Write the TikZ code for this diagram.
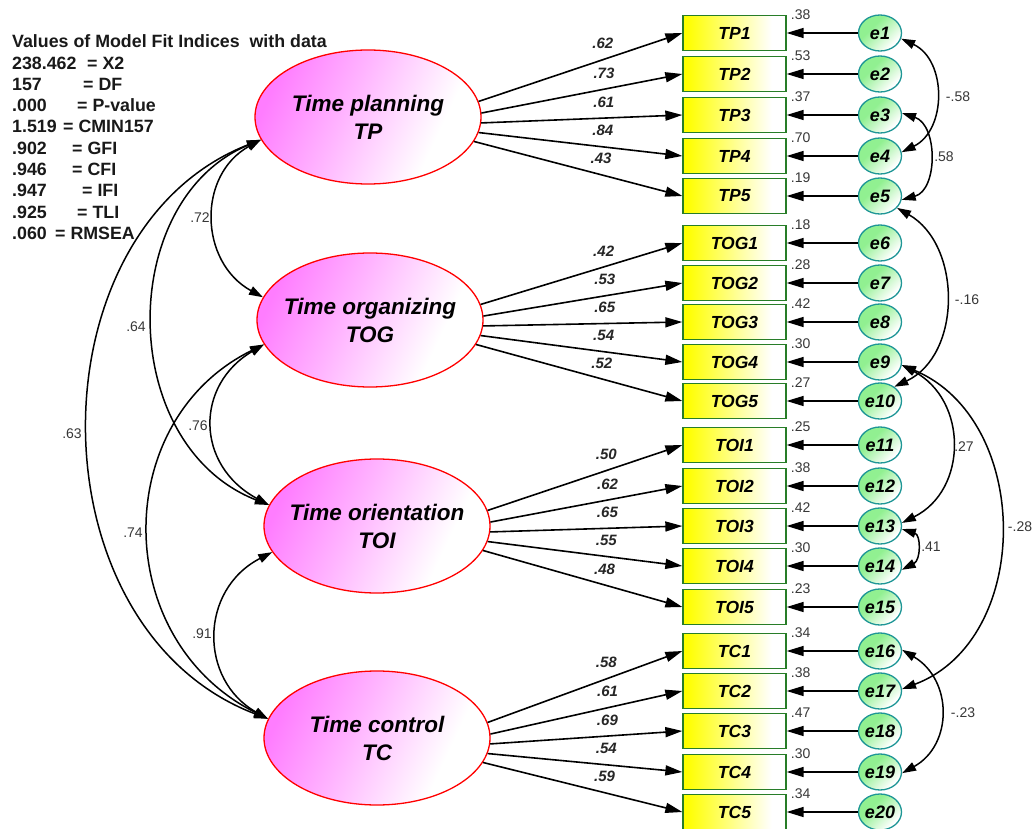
\documentclass[tikz,border=0pt]{standalone}
\usepackage{fontspec}
\setmainfont{Liberation Sans}
\usetikzlibrary{shapes.geometric,arrows.meta}

\definecolor{lpink}{RGB}{255,125,255}
\definecolor{mpink}{RGB}{255,180,255}
\definecolor{boxgreen}{RGB}{40,125,40}
\definecolor{errteal}{RGB}{30,150,150}
\definecolor{errgreen}{RGB}{145,240,145}
\definecolor{numgray}{RGB}{55,55,55}

\pgfdeclarehorizontalshading{pinkfade}{100bp}{color(0bp)=(lpink); color(25bp)=(lpink); color(44bp)=(mpink); color(68bp)=(white); color(100bp)=(white)}
\pgfdeclarehorizontalshading{yellowfade}{100bp}{color(0bp)=(yellow); color(27bp)=(yellow); color(68bp)=(white); color(100bp)=(white)}
\pgfdeclarehorizontalshading{greenfade}{100bp}{color(0bp)=(errgreen); color(38bp)=(errgreen); color(72bp)=(white); color(100bp)=(white)}

\tikzset{
  latent/.style={ellipse, draw=red, line width=1.3pt, minimum width=226pt, minimum height=134pt,
    inner sep=0pt, shade, shading=pinkfade, shading angle=-25},
  latenttext/.style={font=\fontsize{22.5}{28}\selectfont\bfseries\itshape, align=center, inner sep=0pt},
  obs/.style={rectangle, draw=boxgreen, line width=1.3pt, minimum width=103pt, minimum height=35pt,
    inner sep=0pt, shade, shading=yellowfade, font=\fontsize{17.5}{20}\selectfont\bfseries\itshape},
  err/.style={ellipse, draw=errteal, line width=1.3pt, minimum width=43pt, minimum height=36pt,
    inner sep=-1pt, shade, shading=greenfade, shading angle=-45,
    font=\fontsize{18}{20}\selectfont\bfseries\itshape},
  ldg/.style={line width=1.6pt, -{Triangle[length=17pt,width=10pt]}},
  cov/.style={line width=1.5pt, {Triangle[length=14pt,width=9pt]}-{Triangle[length=14pt,width=9pt]}},
  wlab/.style={font=\fontsize{15}{15}\selectfont\bfseries\itshape, inner sep=0pt, text=black!85},
  vlab/.style={font=\fontsize{14}{14}\selectfont, inner sep=0pt, text=numgray},
  fitline/.style={font=\fontsize{17.8}{20}\selectfont\bfseries, inner sep=0pt, anchor=base west, text=black!90}
}

\begin{document}
\begin{tikzpicture}[x=1pt, y=-1pt]
\useasboundingbox[fill=white] (0,0) rectangle (1034,829);

% fit indices
\node[fitline] (fit0) at (12,47.8) {Values of Model Fit Indices\ \ with data};
\foreach \val/\idx/\xe [count=\i] in {238.462/= X2/87, 157/= DF/83, .000/= P-value/77,
    1.519/= CMIN157/63, .902/= GFI/72, .946/= CFI/72, .947/= IFI/82, .925/= TLI/77, .060/= RMSEA/55}{
  \node[fitline] (fitv\i) at (12,47.8+21.3*\i) {\val};
  \node[fitline] (fitn\i) at (\xe,47.8+21.3*\i) {\idx};
}

% latent factors
\node[latent] (TP)  at (368,117) {};
\node[latenttext] (TPtxt) at (TP.center) {Time planning\\TP};
\node[latent] (TOG) at (370,320) {};
\node[latenttext] (TOGtxt) at (TOG.center) {Time organizing\\TOG};
\node[latent] (TOI) at (377,526) {};
\node[latenttext] (TOItxt) at (TOI.center) {Time orientation\\TOI};
\node[latent] (TC)  at (377,738) {};
\node[latenttext] (TCtxt) at (TC.center) {Time control\\TC};

% indicators, error terms and loadings
\foreach \nm/\y/\var/\lat/\ang/\w [count=\i] in {
  TP1/33/.38/TP/8/.62, TP2/74/.53/TP/2/.73, TP3/115/.37/TP/-3/.61, TP4/156/.70/TP/-8.5/.84, TP5/196/.19/TP/-13/.43,
  TOG1/243/.18/TOG/8/.42, TOG2/283/.28/TOG/2/.53, TOG3/322/.42/TOG/-3/.65, TOG4/362/.30/TOG/-8.5/.54, TOG5/401/.27/TOG/-13/.52,
  TOI1/445/.25/TOI/8/.50, TOI2/486/.38/TOI/2/.62, TOI3/526/.42/TOI/-3/.65, TOI4/566/.30/TOI/-8.5/.55, TOI5/607/.23/TOI/-13/.48,
  TC1/651/.34/TC/8/.58, TC2/691/.38/TC/2/.61, TC3/731/.47/TC/-3/.69, TC4/772/.30/TC/-8.5/.54, TC5/812/.34/TC/-13/.59}{
  \node[obs] (\nm) at (734.5,\y) {\nm};
  \node[err] (e\i) at (880,\y) {e\i};
  \node[vlab, anchor=west] (v\nm) at ([xshift=4pt]\nm.north east) {\var};
  \draw[ldg] (e\i.west) -- (\nm.east);
  \draw[ldg] (\lat.\ang) -- (\nm.west) node[wlab, pos=0.61, above=10pt] (w\nm) {\w};
}

% factor correlations
\draw[cov] (TP.192) .. controls (197,175) and (199,262) .. (TOG.168);
\node[vlab] (r72) at (200,218) {.72};
\draw[cov] (TP.192) .. controls (116,200) and (116,445) .. (TOI.169);
\node[vlab] (r64) at (136,327) {.64};
\draw[cov] (TP.192) .. controls (30,230) and (30,628) .. (TC.170);
\node[vlab] (r63) at (72,434) {.63};
\draw[cov] (TOG.193) .. controls (195,385) and (195,465) .. (TOI.169);
\node[vlab] (r76) at (198,426) {.76};
\draw[cov] (TOG.193) .. controls (110,420) and (110,640) .. (TC.170);
\node[vlab] (r74) at (133,533) {.74};
\draw[cov] (TOI.194) .. controls (199,590) and (199,680) .. (TC.170);
\node[vlab] (r91) at (202,634) {.91};

% error covariances
\draw[cov] (e1.-15) .. controls (947,60) and (947,130) .. (e4.10);
\node[vlab] (c14) at (958,97) {-.58};
\draw[cov] (e3.5) .. controls (938,125) and (938,190) .. (e5.-10);
\node[vlab] (c35) at (944,157) {.58};
\draw[cov] (e5.-35) .. controls (962,245) and (962,355) .. (e10.45);
\node[vlab] (c510) at (967,300) {-.16};
\draw[cov] (e9.-8) .. controls (968,400) and (968,490) .. (e13.8);
\node[vlab] (c913) at (964,447) {.27};
\draw[cov] (e9.-8) .. controls (1033,420) and (1033,640) .. (e17.5);
\node[vlab] (c917) at (1020,527) {-.28};
\draw[cov] (e13.-8) .. controls (921,535) and (921,560) .. (e14.-10);
\node[vlab] (c1314) at (931,547) {.41};
\draw[cov] (e16.3) .. controls (953,680) and (953,745) .. (e19.-3);
\node[vlab] (c1619) at (963,713) {-.23};
\end{tikzpicture}
\end{document}
